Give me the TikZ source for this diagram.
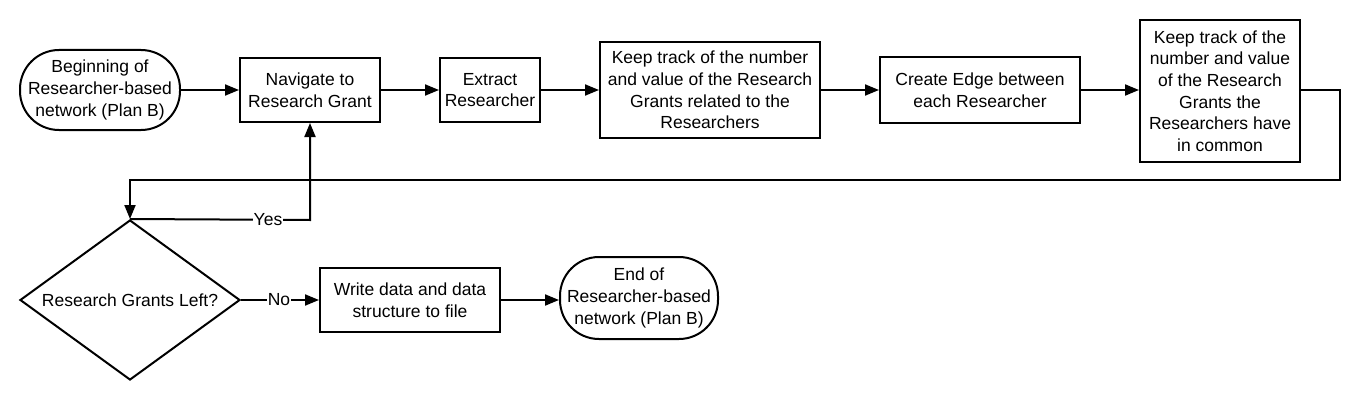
\documentclass[tikz,border=0pt]{standalone}
\usepackage{fontspec}
\setmainfont{Liberation Sans}
\usetikzlibrary{arrows.meta,shapes.geometric}
\begin{document}
\begin{tikzpicture}[x=1pt,y=-1pt,
  every node/.style={font=\fontsize{17.5}{21.7}\selectfont, align=center, inner sep=0pt},
  box/.style={draw, line width=2pt, fill=white, rectangle},
  term/.style={draw, line width=2pt, fill=white, rectangle, rounded corners=39pt},
  dec/.style={draw, line width=2pt, fill=white, diamond, aspect=1.375},
  conn/.style={line width=2pt, -{Triangle[length=14pt,width=11pt]}},
  lab/.style={fill=white, inner sep=1pt}
]
\useasboundingbox (0,0) rectangle (1360,420);
\node[term, minimum width=160pt, minimum height=80pt] (start) at (100,90) {Beginning of\\Researcher-based\\network (Plan B)};
\node[box, minimum width=140pt, minimum height=64pt] (nav) at (310,90) {Navigate to\\Research Grant};
\node[box, minimum width=100pt, minimum height=64pt] (ext) at (490,90) {Extract\\Researcher};
\node[box, minimum width=220pt, minimum height=95pt] (keep1) at (710,90) {Keep track of the number\\and value of the Research\\Grants related to the\\Researchers};
\node[box, minimum width=200pt, minimum height=66pt] (edge) at (980,90) {Create Edge between\\each Researcher};
\node[box, minimum width=160pt, minimum height=142pt] (keep2) at (1220,91) {Keep track of the\\number and value\\of the Research\\Grants the\\Researchers have\\in common};
\node[dec, minimum width=220pt, minimum height=160pt] (left) at (130,300) {Research Grants Left?};
\node[box, minimum width=180pt, minimum height=64pt] (write) at (410,300) {Write data and data\\structure to file};
\node[term, minimum width=158pt, minimum height=82pt] (end) at (639,298) {End of\\Researcher-based\\network (Plan B)};

\coordinate (c1) at (1340,90);
\coordinate (c2) at (1340,180);
\coordinate (c3) at (130,180);
\coordinate (y1) at (310,220);

\draw[conn] (start) -- (nav);
\draw[conn] (nav) -- (ext);
\draw[conn] (ext) -- (keep1);
\draw[conn] (keep1) -- (edge);
\draw[conn] (edge.east) -- (keep2.west |- edge.east);
\draw[conn] (keep2.east |- c1) -- (c1) -- (c2) -- (c3) -- (left.north);
\draw[conn] (left.north) -- (y1) -- (nav.south);
\node[lab] (yes) at (268,220) {Yes};
\draw[conn] (left.east) -- (write.west);
\node[lab] (no) at (279,300) {No};
\draw[conn] (write.east) -- (end.west |- write.east);
\end{tikzpicture}
\end{document}
